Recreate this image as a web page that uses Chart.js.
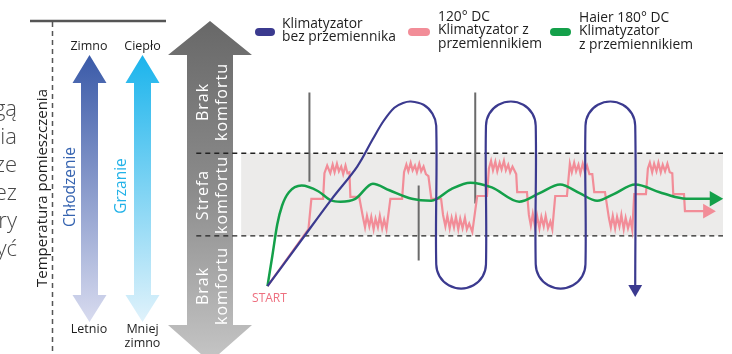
<!DOCTYPE html>
<html><head><meta charset="utf-8">
<script src="https://cdn.jsdelivr.net/npm/chart.js@4/dist/chart.umd.min.js"></script>
<style>html,body{margin:0;padding:0;background:#fff;overflow:hidden}</style>
</head><body>
<canvas id="c" width="732" height="354"></canvas>
<script>
// ---- DATA (time units on x, temperature index on y) ----
const seriesLegend = [
  ["Klimatyzator", "bez przemiennika"],
  ["120° DC", "Klimatyzator z", "przemiennikiem"],
  ["Haier 180° DC", "Klimatyzator", "z przemiennikiem"]
];
const comfortBounds = [13.25, 35];          // lower / upper edge of comfort zone
const xRange = [-66.25, 116.75];
const yRange = [-15.5, 73];

// Klimatyzator bez przemiennika (on/off loops)
const blueT = [0,8.25,16.5,23,27,29.75,32.5,34.75,36.75,40,42.27,43.25,
  43.25,44.1,46.44,49.63,52.81,55.15,56,
  56,56.86,59.19,62.38,65.56,67.9,68.75,
  68.75,69.6,71.94,75.13,78.31,80.65,81.5,
  81.5,82.36,84.69,87.88,91.06,93.4,94.25,
  94.25];
const blueY = [0,11.5,23,31.5,38.75,43.5,47,48.25,48.63,47.77,45.44,42.25,
  5.75,2.56,0.23,-0.63,0.23,2.56,5.75,
  42.25,45.44,47.77,48.63,47.77,45.44,42.25,
  5.75,2.56,0.23,-0.63,0.23,2.56,5.75,
  42.25,45.44,47.77,48.63,47.77,45.44,42.25,
  -0.75];

// Haier 180° DC
const greenT = [0,1.25,2.5,3.75,5.5,8.75,13,16.25,18.75,22.5,27,31.25,37,42,47,52,57.5,64.5,69.75,75,80,84.5,88.75,94.25,100.5,104.5,108,114.5];
const greenY = [0,8,16.25,21.25,24.75,26.5,25,22.6,22.25,23,27,25.25,23,22.5,25.5,27.25,26,22.25,24.5,26.75,24.5,22.5,24.25,26.75,24.75,23.5,23,23];

// 120° DC (stepped, noisy)
const pinkSeries = [[0,0],[10.5,15],[11.25,23],[14.25,23],[14.6,29.75],
 [15.3,31.75],[16.1,29.75],[16.7,32],[17.2,30],[17.8,32.25],[18.3,30.25],[18.9,31.5],[19.4,29.5],[20,31.75],[20.5,29.75],[21,30],
 [21.25,23.5],[23.5,23.5],[24.5,18],
 [25,15.5],[25.5,18.5],[26.1,15.75],[26.6,18.25],[27.2,15],[27.7,17.75],[28.3,15.5],[28.8,18.5],[29.4,15.25],[29.9,17.5],[30.5,15],
 [31.5,23],[34.5,23],[35,30],
 [35.6,32],[36.1,30.25],[36.7,32.5],[37.2,30.5],[37.8,31.75],[38.3,30],[38.9,32.25],[39.4,30.25],[40,31.5],[40.6,29.5],[41.25,29],
 [42,23],[44.5,23],[45,18.75],
 [45.6,15.75],[46.1,18.5],[46.7,15.25],[47.2,18],[47.8,15.5],[48.3,18.25],[48.9,15],[49.4,17.75],[50,15.25],[50.6,18],[51.1,15],[51.7,16.5],[52.5,14.25],
 [53.75,23.75],[56.25,23.75],[56.75,31],
 [57.3,33],[57.8,30.5],[58.4,32.75],[58.9,30.25],[59.5,32.5],[60,30.75],[60.6,33],[61.1,30.5],[61.7,32],[62.2,30],[62.8,31.5],[63.75,29.5],
 [64,24.75],[66.5,24.75],[67,18.75],
 [67.5,16],[68,19],[68.6,15.5],[69.1,18.5],[69.7,15.25],[70.2,18.25],[70.8,15.75],[71.3,18.5],[71.9,15.25],[72.5,17],[73,15],
 [73.75,23.75],[76.75,23.75],[77.5,32.25],
 [78,30],[78.6,32.5],[79.1,30.25],[79.7,32],[80.2,29.75],[80.8,32.25],[81.3,30.25],[81.9,31.75],[82.5,29.5],[83.25,29.5],
 [83.75,24.75],[86.5,24.75],[87.5,18],
 [88,15.5],[88.5,18.5],[89.1,15.25],[89.6,18.25],[90.2,15.75],[90.7,18.75],[91.3,15],[91.8,18],[92.4,15.25],[93,17.5],[93.5,14.75],
 [94,24.25],[97,24.25],[97.5,31],
 [98,32.5],[98.6,30],[99.1,32.25],[99.7,30.25],[100.2,32.5],[100.8,30],[101.3,32],[101.9,30.25],[102.5,32.25],[103.1,30],[103.75,29.75],
 [104,24.25],[106.75,24.25],[107,19.75],[112.75,19.75]];

// vertical gray markers: [time, top, bottom]
const markers = [[10.75, 51, 27.5], [38.75, 26.5, 6.75], [53.25, 51, 21.75]];

// comfort zone band / dashed line start (time units)
const bandStartT = -6.75, dashStartT = -18.25;

// ---- STYLE ----
const COL = {blue:'#3b3a8f', pink:'#f28d98', green:'#14a04a', marker:'#6b6b6b'};
const FONT = "'Open Sans', 'DejaVu Sans', sans-serif";

const toPts = (xs, ys) => xs.map((v, i) => ({x: v, y: ys[i]}));
const lastOnly = r => c => (c.dataIndex === c.dataset.data.length - 1 ? r : 0);

function doubleArrow(ctx, cx, tip1, base1, base2, tip2, hh, sh, stops) {
  const g = ctx.createLinearGradient(0, tip1, 0, tip2);
  stops.forEach(s => g.addColorStop(s[0], s[1]));
  ctx.fillStyle = g;
  ctx.beginPath();
  ctx.moveTo(cx, tip1); ctx.lineTo(cx + hh, base1); ctx.lineTo(cx + sh, base1);
  ctx.lineTo(cx + sh, base2); ctx.lineTo(cx + hh, base2); ctx.lineTo(cx, tip2);
  ctx.lineTo(cx - hh, base2); ctx.lineTo(cx - sh, base2); ctx.lineTo(cx - sh, base1);
  ctx.lineTo(cx - hh, base1); ctx.closePath(); ctx.fill();
}
function vtext(ctx, s, x, y, font, color, ls) {
  ctx.save(); ctx.translate(x, y); ctx.rotate(-Math.PI / 2);
  ctx.font = font; ctx.fillStyle = color; ctx.textAlign = 'center'; ctx.textBaseline = 'middle';
  ctx.letterSpacing = ls || '0px';
  ctx.fillText(s, 0, 0); ctx.restore();
}
function htext(ctx, s, x, y, font, color, align) {
  ctx.font = font; ctx.fillStyle = color; ctx.textAlign = align || 'center'; ctx.textBaseline = 'middle';
  ctx.fillText(s, x, y);
}

const decor = {
  id: 'decor',
  beforeDatasetsDraw(chart) {
    const {ctx, scales: {x, y}} = chart;
    ctx.save();
    const xR = x.getPixelForValue(x.max);
    const yT = y.getPixelForValue(comfortBounds[1]), yB = y.getPixelForValue(comfortBounds[0]);
    // comfort band
    ctx.fillStyle = '#ecebea';
    const xb = x.getPixelForValue(bandStartT);
    ctx.fillRect(xb, yT, xR - xb, yB - yT);

    // cut-off paragraph on the far left
    const frag = ["gą", "ia", "ze", "ez", "ry", "yć"];
    frag.forEach((s, i) => htext(ctx, s, 17, 110 + i * 28, "300 22px " + FONT, '#484848', 'right'));

    // axis title + top rule + dashed vertical
    ctx.strokeStyle = '#555'; ctx.lineWidth = 2.5;
    ctx.beginPath(); ctx.moveTo(30, 21); ctx.lineTo(166, 21); ctx.stroke();
    ctx.setLineDash([5, 4]); ctx.lineWidth = 1.5; ctx.strokeStyle = '#555';
    ctx.beginPath(); ctx.moveTo(52.5, 22); ctx.lineTo(52.5, 354); ctx.stroke();
    ctx.setLineDash([]);
    vtext(ctx, "Temperatura pomieszczenia", 43, 188, "15px " + FONT, '#1e1e1e');

    // cooling / heating arrows
    doubleArrow(ctx, 89.5, 55, 83, 295, 322, 17, 8.5, [[0, '#3a5aa8'], [1, '#d8dbef']]);
    doubleArrow(ctx, 142.5, 55, 83, 295, 322, 17, 8.5, [[0, '#1bb4ec'], [1, '#e0f2fb']]);
    vtext(ctx, "Chłodzenie", 71, 187, "15.5px " + FONT, '#3563b0');
    vtext(ctx, "Grzanie", 121.5, 186, "15.5px " + FONT, '#22b2e8');
    const lf = "12.5px " + FONT;
    htext(ctx, "Zimno", 89, 46, lf, '#1e1e1e');
    htext(ctx, "Ciepło", 142.5, 46, lf, '#1e1e1e');
    htext(ctx, "Letnio", 89, 329, lf, '#1e1e1e');
    htext(ctx, "Mniej", 142.5, 329, lf, '#1e1e1e');
    htext(ctx, "zimno", 142.5, 343, lf, '#1e1e1e');

    // comfort double arrow
    doubleArrow(ctx, 210, 21, 55, 325, 362, 42, 23, [[0, '#686868'], [0.5, '#8c8c8c'], [1, '#c6c6c6']]);
    const af = "16px " + FONT;
    [["Brak", "komfortu", 102], ["Strefa", "komfortu", 195], ["Brak", "komfortu", 286]].forEach(g => {
      vtext(ctx, g[0], 203, g[2], af, '#fff', '1px');
      vtext(ctx, g[1], 222, g[2], af, '#fff', '1px');
    });

    // dashed comfort bounds
    ctx.setLineDash([5, 4]); ctx.strokeStyle = '#222'; ctx.lineWidth = 1.4;
    const xd = x.getPixelForValue(dashStartT);
    [yT, yB].forEach(py => { ctx.beginPath(); ctx.moveTo(xd, py); ctx.lineTo(xR, py); ctx.stroke(); });
    ctx.restore();
  },
  afterDatasetsDraw(chart) {
    const {ctx, scales: {x, y}} = chart;
    ctx.save();
    // START label
    htext(ctx, "START", x.getPixelForValue(0) + 2, y.getPixelForValue(0) + 12, "12px " + FONT, '#ee6f7f');
    // legend
    const items = [
      {c: COL.blue, px: 255, w: 20, tx: 282, ty: 24},
      {c: COL.pink, px: 408, w: 22, tx: 438, ty: 17},
      {c: COL.green, px: 550, w: 21, tx: 579, ty: 18}
    ];
    items.forEach((it, i) => {
      ctx.fillStyle = it.c;
      ctx.beginPath(); ctx.roundRect(it.px, 28, it.w, 8, 4); ctx.fill();
      seriesLegend[i].forEach((s, j) => htext(ctx, s, it.tx, it.ty + j * 13.3, "13.8px " + FONT, '#1e1e1e', 'left'));
    });
    ctx.restore();
  }
};

const datasets = [
  {label: seriesLegend[0].join(' '), data: toPts(blueT, blueY), showLine: true, borderColor: COL.blue, borderWidth: 2.2,
   tension: 0.35, pointRadius: lastOnly(8), pointStyle: 'triangle', pointRotation: 180,
   pointBackgroundColor: COL.blue, pointBorderColor: COL.blue, pointBorderWidth: 0, clip: false},
  {label: seriesLegend[2].join(' '), data: toPts(greenT, greenY), showLine: true, borderColor: COL.green, borderWidth: 2.5,
   cubicInterpolationMode: 'monotone', pointRadius: lastOnly(9), pointStyle: 'triangle', pointRotation: 90,
   pointBackgroundColor: COL.green, pointBorderColor: COL.green, pointBorderWidth: 0, clip: false},
  {label: seriesLegend[1].join(' '), data: pinkSeries.map(p => ({x: p[0], y: p[1]})), showLine: true, borderColor: COL.pink, borderWidth: 2.2,
   tension: 0, pointRadius: lastOnly(8.5), pointStyle: 'triangle', pointRotation: 90,
   pointBackgroundColor: COL.pink, pointBorderColor: COL.pink, pointBorderWidth: 0, clip: false}
];
markers.forEach(m => datasets.push({label: 'marker', data: [{x: m[0], y: m[1]}, {x: m[0], y: m[2]}], showLine: true,
  borderColor: COL.marker, borderWidth: 2, pointRadius: 0, clip: false}));

new Chart(document.getElementById('c'), {
  type: 'scatter',
  data: {datasets},
  options: {
    responsive: false, animation: false, devicePixelRatio: 1, events: [],
    layout: {padding: 0},
    plugins: {legend: {display: false}, tooltip: {enabled: false}},
    scales: {
      x: {type: 'linear', min: xRange[0], max: xRange[1], display: false},
      y: {type: 'linear', min: yRange[0], max: yRange[1], display: false}
    }
  },
  plugins: [decor]
});
</script>
</body></html>
